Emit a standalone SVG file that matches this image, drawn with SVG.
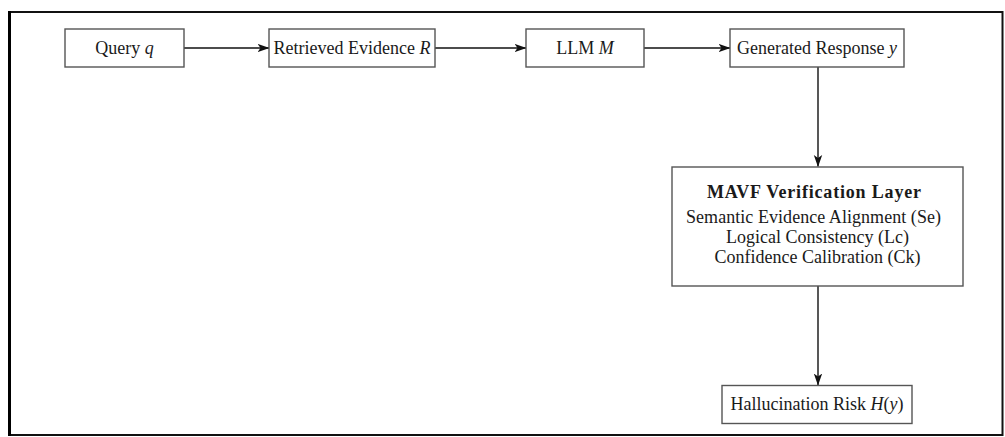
<svg xmlns="http://www.w3.org/2000/svg" width="1005" height="437" viewBox="0 0 1005 437">
<defs>
<style>
.box{fill:#fff;stroke:#555;stroke-width:1.4}
.t{font-family:"Liberation Serif","Times New Roman",serif;font-size:18px;fill:#1a1a1a;text-anchor:middle}
.b{font-weight:bold}
.i{font-style:italic}
.c{stroke:#111;stroke-width:1.4;fill:none;marker-end:url(#ah)}
</style>
<marker id="ah" viewBox="0 0 12 10" refX="11.5" refY="5" markerWidth="12" markerHeight="10" markerUnits="userSpaceOnUse" orient="auto">
<path d="M0,0.8 L12,5 L0,9.2 L3,5 Z" fill="#111"/>
</marker>
</defs>
<rect x="0" y="0" width="1005" height="437" fill="#fff"/>
<rect x="9.5" y="12" width="993" height="423" fill="none" stroke="#111" stroke-width="2"/>
<line x1="9.5" y1="11" x2="9.5" y2="436" stroke="#000" stroke-width="3"/>
<g id="connectors">
<line class="c" x1="184" y1="48" x2="269" y2="48"/>
<line class="c" x1="435" y1="48" x2="526" y2="48"/>
<line class="c" x1="644" y1="48" x2="730" y2="48"/>
<line class="c" x1="818" y1="67" x2="818" y2="166.5"/>
<line class="c" x1="818" y1="286" x2="818" y2="385"/>
</g>
<g id="query">
<rect class="box" x="65" y="29" width="119" height="38"/>
<text class="t" x="124.5" y="54">Query <tspan class="i">q</tspan></text>
</g>
<g id="evidence">
<rect class="box" x="269" y="29" width="166" height="38"/>
<text class="t" x="352" y="54">Retrieved Evidence <tspan class="i">R</tspan></text>
</g>
<g id="llm">
<rect class="box" x="526" y="29" width="118" height="38"/>
<text class="t" x="585" y="54">LLM <tspan class="i">M</tspan></text>
</g>
<g id="response">
<rect class="box" x="730" y="29" width="174" height="38"/>
<text class="t" x="817" y="54">Generated Response <tspan class="i">y</tspan></text>
</g>
<g id="mavf">
<rect class="box" x="672" y="167" width="291" height="119"/>
<text class="t b" x="814" y="198" textLength="214" lengthAdjust="spacing">MAVF Verification Layer</text>
<text class="t" x="813.5" y="223" textLength="255" lengthAdjust="spacing">Semantic Evidence Alignment (Se)</text>
<text class="t" x="817.5" y="243">Logical Consistency (Lc)</text>
<text class="t" x="817.5" y="263">Confidence Calibration (Ck)</text>
</g>
<g id="risk">
<rect class="box" x="722" y="385.5" width="190" height="38"/>
<text class="t" x="817" y="410">Hallucination Risk <tspan class="i">H</tspan>(<tspan class="i">y</tspan>)</text>
</g>
</svg>
